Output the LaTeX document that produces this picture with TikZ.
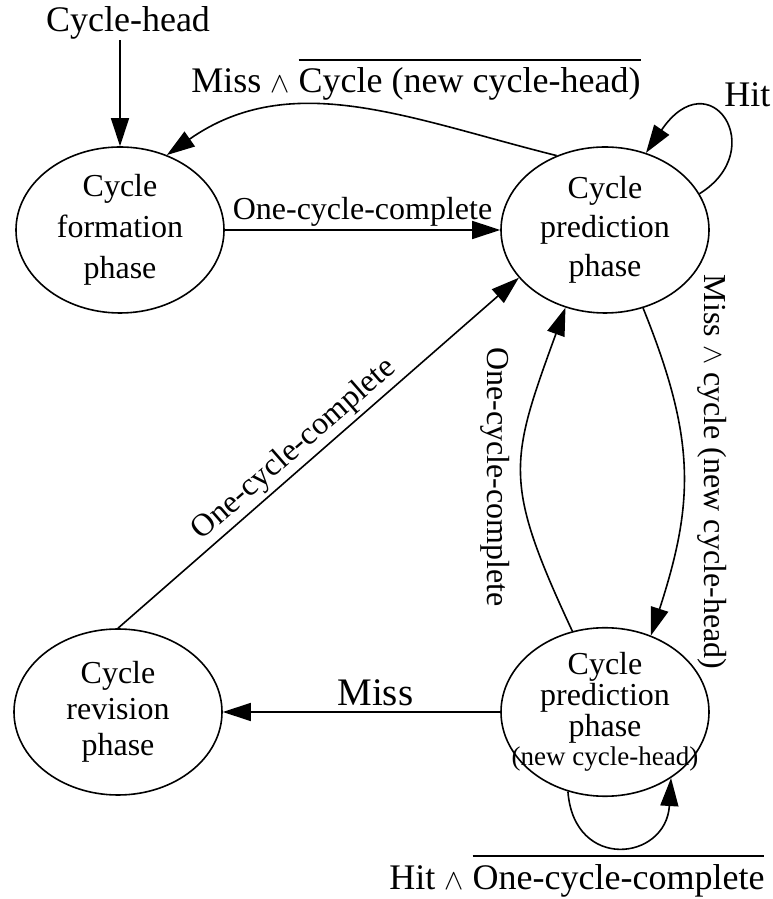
\documentclass[tikz,border=0pt]{standalone}
\usepackage{fontspec}
\setmainfont{Liberation Serif}
\usepackage{tikz}
\usetikzlibrary{shapes.geometric}
\usetikzlibrary{arrows.meta}

\newlength\barlen
\newcommand{\negbar}[1]{\settowidth{\barlen}{#1}\makebox[0pt][l]{\rule[0.9em]{\barlen}{1pt}}#1}
\newcommand{\andsym}{{\fontsize{14}{14}\selectfont$\wedge$}}

\begin{document}
\begin{tikzpicture}[x=0.5pt, y=0.5pt]
	\tikzstyle{PhaseStyle}   = [shape = ellipse, draw, line width = 0.8pt, minimum width = 104pt, minimum height = 83pt, inner sep = 0pt, align = center, font = \fontsize{16}{19.5}\selectfont]
	\tikzstyle{EdgeStyle}    = [-{Triangle[length=14pt,width=9pt]}, line width = 0.8pt]
	\tikzstyle{LabelStyle}   = [font = \fontsize{16}{19}\selectfont, inner sep = 1.5pt]
	\tikzstyle{CaptionStyle} = [font = \fontsize{18}{21}\selectfont, inner sep = 0pt]
	%\draw[help lines] (0,0) grid (772,899);
	\useasboundingbox (0,0) rectangle (772,899);

	\node[CaptionStyle, anchor=base] (head) at (128,867) {Cycle-head};
	\node[PhaseStyle, font=\fontsize{16}{20.5}\selectfont] (form) at (120,669) {Cycle\\formation\\phase};
	\node[PhaseStyle] (pred) at (605,669) {Cycle\\prediction\\phase};
	\node[PhaseStyle, font=\fontsize{16}{18}\selectfont] (rev) at (118,187) {Cycle\\revision\\phase};
	\node[PhaseStyle, inner xsep=-15pt, font=\fontsize{16}{14.5}\selectfont] (predNew) at (605,187)
		{Cycle\\prediction\\phase\\{\fontsize{13.5}{14.5}\selectfont(new cycle-head)}};

	\node[CaptionStyle, anchor=base] (missCycle) at (416,806) {Miss \andsym\ \negbar{Cycle (new cycle-head)}};
	\node[CaptionStyle, anchor=base west] (hit) at (724,792) {Hit};
	\node[CaptionStyle, anchor=base west] (hitNot) at (389,10) {Hit \andsym\ \negbar{One-cycle-complete}};
	\node[LabelStyle, rotate=-90] (missNew) at (712,427) {Miss \andsym\ cycle (new cycle-head)};
	\node[LabelStyle, rotate=-90] (backDone) at (495,422) {One-cycle-complete};

	\draw[EdgeStyle] (head.south -| form.north) -- (form);
	\draw[EdgeStyle] (form) -- node[LabelStyle, above] (formDone) {One-cycle-complete} (pred);
	\draw[EdgeStyle] (pred.123) to[out=166, in=35] (form.58);
	\draw[EdgeStyle] (pred.21) .. controls +(71,44) and +(64,94) .. (pred.62);
	\draw[EdgeStyle] (pred.-64) to[out=-68, in=72, looseness=1.1] (predNew.59);
	\draw[EdgeStyle] (predNew.112) to[out=115, in=-110, looseness=1.3] (pred.243);
	\draw[EdgeStyle] (rev.north) -- node[LabelStyle, sloped, above, pos=0.47] (revDone) {One-cycle-complete} (pred.209);
	\draw[EdgeStyle] (predNew) -- node[LabelStyle, above=1pt, pos=0.45, font=\fontsize{19.5}{22}\selectfont] (miss) {Miss} (rev);
	\draw[EdgeStyle] (predNew.245) .. controls +(6,-80) and +(-5,-83) .. (predNew.-45);
\end{tikzpicture}
\end{document}
